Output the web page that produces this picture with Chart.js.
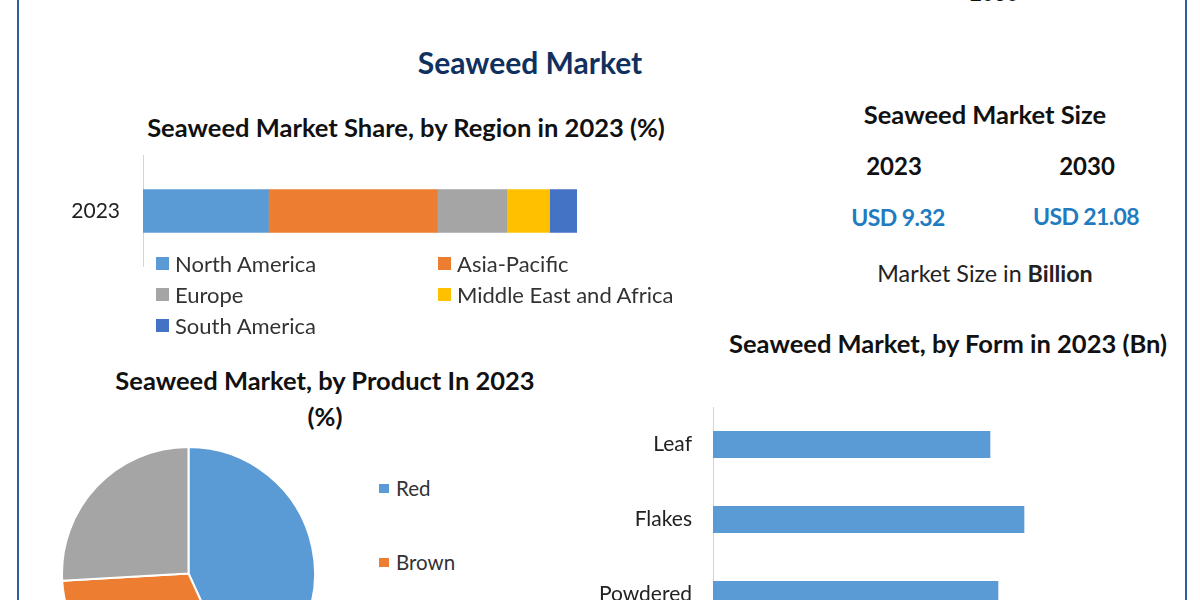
<!DOCTYPE html>
<html>
<head>
<meta charset="utf-8">
<title>Seaweed Market</title>
<script src="https://cdn.jsdelivr.net/npm/chart.js@4"></script>
<style>
  html, body { margin: 0; padding: 0; background: #fff; }
  body { width: 1200px; height: 600px; overflow: hidden; position: relative; font-family: Lato, sans-serif; color: #111; }
  .side { position: absolute; top: 0; bottom: 0; width: 2px; background: #2e5f9a; }
  .t { position: absolute; transform: translate(-50%, -50%); white-space: nowrap; }
  .head { font-weight: 700; font-size: 25.5px; }
  .year { font-weight: 700; font-size: 24px; }
  .usd { font-weight: 700; font-size: 23px; color: #1f7cc0; letter-spacing: -0.6px; }
  canvas { position: absolute; }
  .legend { position: absolute; display: grid; font-size: 22px; color: #333; }
  .legend div { display: flex; align-items: center; white-space: nowrap; }
  .legend i { display: block; flex: none; }
  #regionLegend { left: 156px; top: 248px; grid-template-columns: 282px 260px; grid-auto-rows: 31px; }
  #regionLegend i { width: 13px; height: 13px; margin-right: 6px; }
  #productLegend { left: 379px; top: 451px; grid-auto-rows: 74px; font-size: 20.5px; }
  #productLegend i { width: 10px; height: 9px; margin-right: 7px; }
</style>
</head>
<body>
<div class="side" style="left:17px"></div>
<div class="side" style="left:1185px"></div>

<div class="t" style="left:994px;top:-8px;font-size:21px">2030</div>
<div class="t" style="left:530px;top:62px;font-size:30px;font-weight:700;color:#10305f">Seaweed Market</div>
<div class="t head" style="left:406px;top:127px">Seaweed Market Share, by Region in 2023 (%)</div>
<div class="t head" style="left:985px;top:114px">Seaweed Market Size</div>
<div class="t year" style="left:894px;top:165px">2023</div>
<div class="t year" style="left:1087px;top:165px">2030</div>
<div class="t usd" style="left:898px;top:217px">USD 9.32</div>
<div class="t usd" style="left:1086px;top:216px">USD 21.08</div>
<div class="t" style="left:985px;top:273px;font-size:23.3px;color:#222">Market Size in <b>Billion</b></div>
<div class="t head" style="left:325px;top:380px">Seaweed Market, by Product In 2023</div>
<div class="t head" style="left:325px;top:416px">(%)</div>
<div class="t head" style="left:948px;top:343px">Seaweed Market, by Form in 2023 (Bn)</div>

<canvas id="regionChart" style="left:40px;top:155px"></canvas>
<div class="legend" id="regionLegend"></div>
<canvas id="productChart" style="left:61px;top:446px"></canvas>
<div class="legend" id="productLegend"></div>
<canvas id="formChart" style="left:560px;top:407px"></canvas>

<script>
const regionYears = ["2023"];
const regionNames = ["North America", "Asia-Pacific", "Europe", "Middle East and Africa", "South America"];
const regionShares = [28.9, 38.9, 16.0, 9.9, 6.3];

const productNames = ["Red", "Brown", "Green"];
const productShares = [43.2, 30.9, 25.9];

const formNames = ["Leaf", "Flakes", "Powdered"];
const formValues = [2.77, 3.11, 2.85];
const formAxisMax = 4.5;

const regionColors = ["#5b9bd5", "#ed7d31", "#a5a5a5", "#ffc000", "#4472c4"];
const productColors = ["#5b9bd5", "#ed7d31", "#a5a5a5"];

Chart.defaults.animation = false;
Chart.defaults.responsive = false;
Chart.defaults.font.family = "Lato, sans-serif";

function setSize(id, w, h) {
  const canvas = document.getElementById(id);
  canvas.width = w;
  canvas.height = h;
  return canvas;
}

// html legend, the library one can't do these column gaps
function fillLegend(id, names, colors) {
  document.getElementById(id).innerHTML = names.map((name, i) =>
    `<div><i style="background:${colors[i]}"></i>${name}</div>`).join("");
}

// horizontal bar options shared by the two bar charts
function barOptions(axisWidth, tickPadding, xMax, stacked) {
  return {
    indexAxis: "y",
    layout: { padding: 0 },
    plugins: { legend: { display: false }, tooltip: { enabled: false } },
    scales: {
      x: { display: false, min: 0, max: xMax, stacked: stacked },
      y: {
        stacked: stacked,
        grid: { display: false },
        border: { display: true, color: "#d4d4d4" },
        ticks: { padding: tickPadding, color: "#222", font: { size: 21 } },
        afterFit: (scale) => {
          // tick padding also eats into the height of a y axis, take that back
          scale.width = axisWidth;
          scale.paddingTop = 0;
          scale.paddingBottom = 0;
        }
      }
    }
  };
}

new Chart(setSize("regionChart", 537, 112), {
  type: "bar",
  data: {
    labels: regionYears,
    datasets: regionNames.map((name, i) => ({
      label: name,
      data: [regionShares[i]],
      backgroundColor: regionColors[i],
      barThickness: 43
    }))
  },
  options: barOptions(103, 15, 100, true)
});
fillLegend("regionLegend", regionNames, regionColors);

new Chart(setSize("productChart", 255, 255), {
  type: "pie",
  data: {
    labels: productNames,
    datasets: [{
      data: productShares,
      backgroundColor: productColors,
      borderColor: "#fff",
      borderWidth: 2
    }]
  },
  options: {
    layout: { padding: 0 },
    plugins: { legend: { display: false }, tooltip: { enabled: false } }
  }
});
fillLegend("productLegend", productNames, productColors);

new Chart(setSize("formChart", 603, 225), {
  type: "bar",
  data: {
    labels: formNames,
    datasets: [{
      label: "Form",
      data: formValues,
      backgroundColor: "#5b9bd5",
      barThickness: 26.5
    }]
  },
  options: barOptions(153, 13, formAxisMax, false)
});
</script>
</body>
</html>
